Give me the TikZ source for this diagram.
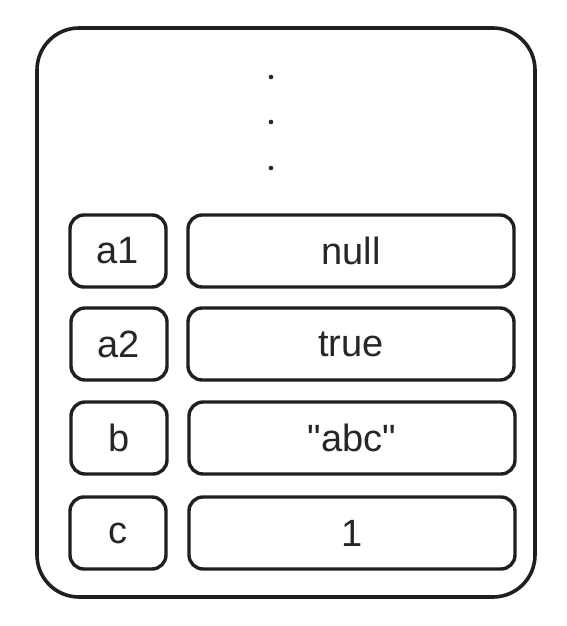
\documentclass[tikz,border=0pt]{standalone}
\usepackage{fontspec}
\newfontfamily\boxfont{Liberation Sans}
\begin{document}
\begin{tikzpicture}[x=1pt,y=-1pt,
  box/.style={draw=black!88,line width=3.4pt,rounded corners=14pt,minimum height=72pt,inner sep=0pt,font=\boxfont\fontsize{38}{42}\selectfont,text=black!85},
  keybox/.style={box,minimum width=96pt},
  valbox/.style={box,minimum width=326pt},
  frame/.style={draw=black!88,line width=3.6pt,rounded corners=42pt}]
\useasboundingbox (0,0) rectangle (566,626);
\draw[frame] (37,28) rectangle (535,597);
\foreach \yy/\nm in {77/d1,122/d2,168/d3}
  \fill[black!85] (271,\yy) circle (2.3pt) coordinate (\nm);
\node[keybox] (k1) at (118,251) {a1};
\node[valbox] (v1) at (351,251) {null};
\node[keybox] (k2) at (119,344) {a2};
\node[valbox] (v2) at (351,344) {true};
\node[keybox] (k3) at (119,438) {b};
\node[valbox] (v3) at (352,438) {"abc"};
\node[keybox] (k4) at (118,533) {c};
\node[valbox] (v4) at (352,533) {1};
\end{tikzpicture}
\end{document}
